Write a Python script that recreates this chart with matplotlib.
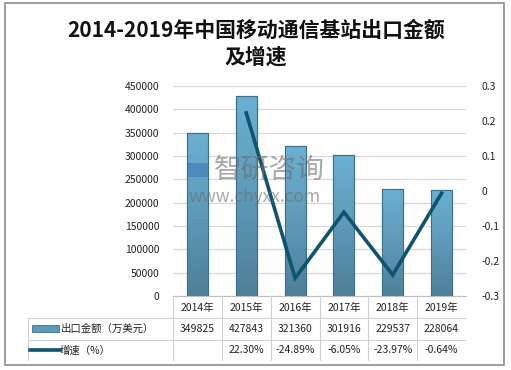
import numpy as np
import matplotlib.pyplot as plt
from matplotlib.patches import Rectangle
from matplotlib.lines import Line2D
from matplotlib.colors import LinearSegmentedColormap

plt.rcParams["font.family"] = ["Noto Sans CJK SC", "DejaVu Sans"]

years = ["2014年", "2015年", "2016年", "2017年", "2018年", "2019年"]
export_value = [349825, 427843, 321360, 301916, 229537, 228064]
growth_pct = [None, 22.30, -24.89, -6.05, -23.97, -0.64]
growth_labels = ["", "22.30%", "-24.89%", "-6.05%", "-23.97%", "-0.64%"]
bar_label = "出口金额（万美元）"
line_label = "增速（%）"

W, H = 511, 370
fig = plt.figure(figsize=(W / 100, H / 100), dpi=100)


def fx(px):
    return px / W


def fy(py):
    return 1 - py / H


# outer frame
fig.patches.append(Rectangle((fx(5), fy(365)), fx(499), 362 / H, transform=fig.transFigure,
                             fill=False, edgecolor="#8c8c8c", linewidth=1.2))

fig.text(fx(256), fy(30), "2014-2019年中国移动通信基站出口金额", ha="center", va="center",
         fontsize=15, fontweight="bold", color="#111111")
fig.text(fx(256), fy(57), "及增速", ha="center", va="center",
         fontsize=15, fontweight="bold", color="#111111")

left, right, top, bottom = 173, 466, 86, 296
ax = fig.add_axes([fx(left), fy(bottom), fx(right - left), (bottom - top) / H])
x = np.arange(len(years))
ax.set_yticks(np.arange(0, 450001, 50000))
ax.yaxis.grid(True, color="#d9d9d9", linewidth=0.9)
ax.set_axisbelow(True)
for s in ["top", "right", "left"]:
    ax.spines[s].set_visible(False)
ax.spines["bottom"].set_color("#bfbfbf")
ax.tick_params(axis="y", length=0, labelsize=7.5, colors="#222222", pad=10)
ax.set_xticks([])

# bars with vertical gradient
grad = np.linspace(0, 1, 256).reshape(-1, 1)
cmap = LinearSegmentedColormap.from_list("bar", ["#4e7f97", "#5d9ab8", "#6bb0d2"])
bw = 0.43
bars = ax.bar(x, export_value, width=bw, facecolor="#5d9ab8", edgecolor="#3f6f86",
              linewidth=0.8, zorder=2)
for b in bars:
    bx, by = b.get_x(), b.get_y()
    im = ax.imshow(grad, extent=[bx, bx + b.get_width(), by, by + b.get_height()],
                   origin="lower", cmap=cmap, aspect="auto", zorder=2.1)
    im.set_clip_path(b)
    ax.add_patch(Rectangle((bx, by), b.get_width(), b.get_height(), fill=False,
                           edgecolor="#3f6f86", linewidth=0.8, zorder=2.2))
ax.set_xlim(-0.5, len(years) - 0.5)
ax.set_ylim(0, 450000)

ax2 = ax.twinx()
ax2.set_ylim(-0.3, 0.3)
ax2.set_yticks([0.3, 0.2, 0.1, 0, -0.1, -0.2, -0.3])
ax2.set_yticklabels(["0.3", "0.2", "0.1", "0", "-0.1", "-0.2", "-0.3"])
for s in ax2.spines.values():
    s.set_visible(False)
ax2.tick_params(axis="y", length=0, labelsize=7.5, colors="#222222", pad=11)
gx = [i for i, g in enumerate(growth_pct) if g is not None]
gy = [g / 100 for g in growth_pct if g is not None]
ax2.plot(gx, gy, color="#0e5470", linewidth=2.6, solid_joinstyle="miter", zorder=3)

# watermark
fig.patches.append(Rectangle((fx(188), fy(177)), fx(20), 14 / H, transform=fig.transFigure,
                             facecolor="#3f78b8", edgecolor="none", alpha=0.6, zorder=5))
fig.text(fx(269), fy(170), "智研咨询", ha="center", va="center",
         fontsize=20, color="#6e6e6e", alpha=0.6, zorder=5)
fig.text(fx(255), fy(197), "www.chyxx.com", ha="center", va="center",
         fontsize=12.5, color="#6e6e6e", alpha=0.6, zorder=5)

# data table
tleft, ttop, tbottom = 28, 296, 361
tab = fig.add_axes([fx(tleft), fy(tbottom), fx(right - tleft), (tbottom - ttop) / H])
tab.set_xlim(tleft, right)
tab.set_ylim(tbottom, ttop)
tab.axis("off")
col_edges = np.linspace(left, right, len(years) + 1)
rows = [296, 318, 340, 361]
lc = "#d0d0d0"
for ce in col_edges:
    tab.plot([ce, ce], [rows[0], rows[3]], color=lc, linewidth=0.8)
tab.plot([tleft, tleft], [rows[1], rows[3]], color=lc, linewidth=0.8)
for r in rows[1:]:
    tab.plot([tleft, right], [r, r], color=lc, linewidth=0.8)

centers = (col_edges[:-1] + col_edges[1:]) / 2
fs = 7.5
for c, yr in zip(centers, years):
    tab.text(c, (rows[0] + rows[1]) / 2 + 1, yr, ha="center", va="center", fontsize=fs, color="#222222")
for c, v in zip(centers, export_value):
    tab.text(c, (rows[1] + rows[2]) / 2, str(v), ha="center", va="center", fontsize=fs, color="#222222")
for c, g in zip(centers, growth_labels):
    tab.text(c, (rows[2] + rows[3]) / 2, g, ha="center", va="center", fontsize=fs, color="#222222")

ym = (rows[1] + rows[2]) / 2
tab.add_patch(Rectangle((32, ym - 3.5), 27, 7, facecolor="#5d9ab8", edgecolor="#3f6f86", linewidth=0.6))
tab.text(61, ym, bar_label, ha="left", va="center", fontsize=fs, color="#222222")
ym = (rows[2] + rows[3]) / 2
tab.add_line(Line2D([30, 60], [ym, ym], color="#0e5470", linewidth=2.6))
tab.text(60, ym, line_label, ha="left", va="center", fontsize=fs, color="#222222")

fig.savefig("out.png", dpi=100)
